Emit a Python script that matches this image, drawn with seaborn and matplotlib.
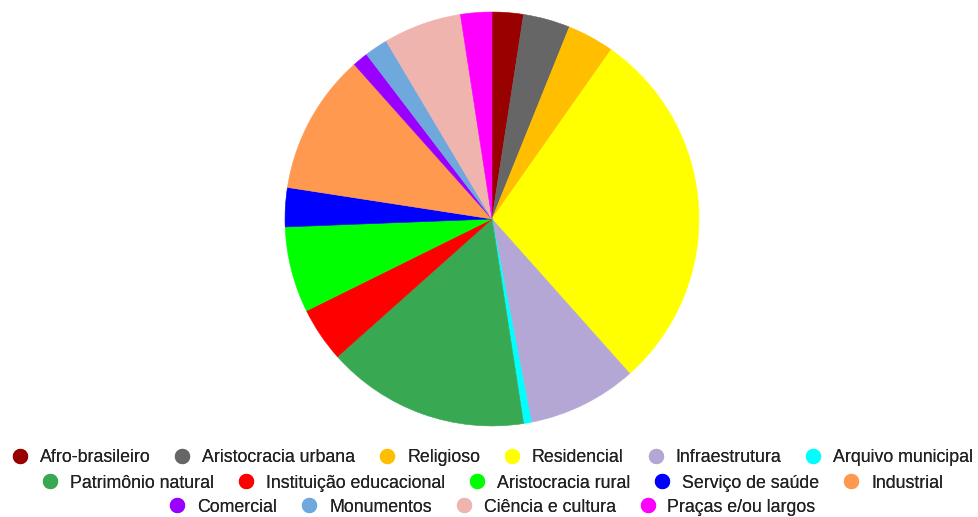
import matplotlib
matplotlib.use("Agg")
import matplotlib.pyplot as plt
from matplotlib.lines import Line2D
import seaborn as sns

categories = ["Afro-brasileiro", "Aristocracia urbana", "Religioso", "Residencial",
              "Infraestrutura", "Arquivo municipal", "Patrimônio natural",
              "Instituição educacional", "Aristocracia rural", "Serviço de saúde",
              "Industrial", "Comercial", "Monumentos", "Ciência e cultura",
              "Praças e/ou largos"]
values = [4, 6, 6, 47, 14, 1, 26, 7, 11, 5, 18, 2, 3, 10, 4]
colors = ["#990000", "#666666", "#ffbf00", "#ffff00", "#b4a7d6", "#00ffff",
          "#38a853", "#ff0000", "#00ff00", "#0000ff", "#ff9950", "#9900ff",
          "#6fa8dc", "#f0b4ae", "#ff00ff"]
legend_rows = [6, 5, 4]

sns.set_theme(style="white")
plt.rcParams["font.family"] = ["Liberation Sans", "DejaVu Sans"]

fig = plt.figure(figsize=(9.79, 5.17), dpi=100)
ax = fig.add_axes([284 / 979, (517 - 427) / 517, 416 / 979, 416 / 517])
wedges, _ = ax.pie(values, colors=colors, startangle=90, counterclock=False, radius=1)
for w, c in zip(wedges, colors):
    w.set_edgecolor(c)
    w.set_linewidth(0.4)
ax.set_xlim(-1.005, 1.005)
ax.set_ylim(-1.005, 1.005)
ax.set_aspect("equal")
ax.axis("off")

row_y = [458, 483, 507]
start = 0
for n, y in zip(legend_rows, row_y):
    handles = [Line2D([], [], marker="o", linestyle="none", markersize=11,
                      markerfacecolor=colors[i], markeredgewidth=0)
               for i in range(start, start + n)]
    labels = categories[start:start + n]
    leg = fig.legend(handles, labels, loc="center", ncol=n,
                     bbox_to_anchor=(492 / 979, 1 - y / 517), frameon=False,
                     fontsize=12.8, handlelength=1.0, handletextpad=0.62,
                     columnspacing=1.3, borderpad=0, borderaxespad=0,
                     labelcolor="#222222")
    fig.add_artist(leg)
    start += n

fig.savefig("out.png", dpi=100)
